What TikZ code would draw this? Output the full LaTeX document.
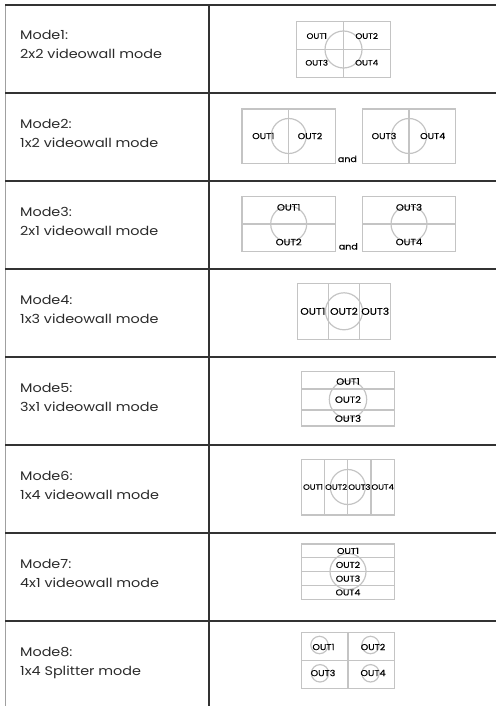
\documentclass[tikz,border=0pt]{standalone}
\usepackage{fontspec}
\setmainfont{Poppins}
\newfontfamily\modefont[FakeStretch=1.15]{Poppins}
\newfontfamily\outfont[FakeStretch=1.12,FakeBold=0.4]{Poppins}
\definecolor{rulecol}{HTML}{333333}
\definecolor{edgecol}{HTML}{A0A0A0}
\definecolor{wallcol}{HTML}{C4C4C4}
\definecolor{txtcol}{HTML}{2A2A2A}
\begin{document}
\begin{tikzpicture}[x=1pt,y=-1pt,
	rule/.style={draw=rulecol, line width=1.8pt},
	wall/.style={draw=wallcol, line width=1.2pt},
	modetxt/.style={anchor=base west, align=left, inner sep=0pt, text=txtcol, font=\modefont\fontsize{12.5}{19}\selectfont},
	out/.style={inner sep=0pt, text=black, font=\outfont\fontsize{#1}{#1}\selectfont},
	andtxt/.style={anchor=base, inner sep=0pt, text=black, font=\outfont\fontsize{8.5}{8.5}\selectfont}]
	\useasboundingbox (0,0) rectangle (496,706);
	\draw[draw=edgecol, line width=1.5pt] (5.5,5) -- (5.5,706);
	\draw[rule] (209,5) -- (209,706);
	\draw[rule] (5,5) -- (496,5);
	\draw[rule] (5,93) -- (496,93);
	\draw[rule] (5,181) -- (496,181);
	\draw[rule] (5,269) -- (496,269);
	\draw[rule] (5,357) -- (496,357);
	\draw[rule] (5,445) -- (496,445);
	\draw[rule] (5,533) -- (496,533);
	\draw[rule] (5,621) -- (496,621);
	\draw (20,59) node[modetxt](mode1) {Mode1:\\2x2 videowall mode};
	\draw (20,147) node[modetxt](mode2) {Mode2:\\1x2 videowall mode};
	\draw (20,235) node[modetxt](mode3) {Mode3:\\2x1 videowall mode};
	\draw (20,323) node[modetxt](mode4) {Mode4:\\1x3 videowall mode};
	\draw (20,411) node[modetxt](mode5) {Mode5:\\3x1 videowall mode};
	\draw (20,499) node[modetxt](mode6) {Mode6:\\1x4 videowall mode};
	\draw (20,587) node[modetxt](mode7) {Mode7:\\4x1 videowall mode};
	\draw (20,675) node[modetxt](mode8) {Mode8:\\1x4 Splitter mode};
	\draw[wall] (296.7,21.7) rectangle (390.3,77.7);
	\draw[wall] (343.5,21.7) -- (343.5,77.7);
	\draw[wall] (296.7,49.5) -- (390.3,49.5);
	\draw[wall] (343.5,49.5) circle (18.5pt);
	\draw (316.7,36) node[out=7.8](m1a) {OUT1};
	\draw (366.7,36) node[out=7.8](m1b) {OUT2};
	\draw (316.7,62.7) node[out=7.8](m1c) {OUT3};
	\draw (366.7,62.7) node[out=7.8](m1d) {OUT4};
	\draw[wall] (242,109) rectangle (335.3,163.3);
	\draw[wall] (288.7,109) -- (288.7,163.3);
	\draw[wall] (288.7,136) circle (17.5pt);
	\draw (263.3,136) node[out=8.5](m2a) {OUT1};
	\draw (310,136) node[out=8.5](m2b) {OUT2};
	\draw (347.4,162) node[andtxt](and2) {and};
	\draw[wall] (362.7,109) rectangle (455.3,163.3);
	\draw[wall] (409,109) -- (409,163.3);
	\draw[wall] (409,136) circle (17.5pt);
	\draw (384,136) node[out=8.5](m2c) {OUT3};
	\draw (432.7,136) node[out=8.5](m2d) {OUT4};
	\draw[wall] (242,196.7) rectangle (335.3,251.3);
	\draw[wall] (242,224) -- (335.3,224);
	\draw[wall] (288.7,224) circle (18pt);
	\draw (288.7,207.3) node[out=9](m3a) {OUT1};
	\draw (288.7,242) node[out=9](m3b) {OUT2};
	\draw (348.3,249.5) node[andtxt](and3) {and};
	\draw[wall] (362.7,196.7) rectangle (455.3,251.3);
	\draw[wall] (362.7,224) -- (455.3,224);
	\draw[wall] (409,224) circle (18pt);
	\draw (409,207.3) node[out=9](m3c) {OUT3};
	\draw (409,242) node[out=9](m3d) {OUT4};
	\draw[wall] (297.3,283.3) rectangle (390.7,339.3);
	\draw[wall] (328.4,283.3) -- (328.4,339.3);
	\draw[wall] (359.6,283.3) -- (359.6,339.3);
	\draw[wall] (344,311.3) circle (18.5pt);
	\draw (312.8,311.3) node[out=9.6](m4a) {OUT1};
	\draw (344,311.3) node[out=9.6](m4b) {OUT2};
	\draw (375.2,311.3) node[out=9.6](m4c) {OUT3};
	\draw[wall] (301.7,371.7) rectangle (394.3,426);
	\draw[wall] (301.7,389) -- (394.3,389);
	\draw[wall] (301.7,410) -- (394.3,410);
	\draw[wall] (348,399.5) circle (18.7pt);
	\draw (348,381.5) node[out=9](m5a) {OUT1};
	\draw (348,399.5) node[out=9](m5b) {OUT2};
	\draw (348,418.5) node[out=9](m5c) {OUT3};
	\draw[wall] (301.3,459.3) rectangle (394.3,515);
	\draw[wall] (324.5,459.3) -- (324.5,515);
	\draw[wall] (347.8,459.3) -- (347.8,515);
	\draw[wall] (371,459.3) -- (371,515);
	\draw[wall] (347.8,487) circle (17.5pt);
	\draw (313,487) node[out=7.6](m6a) {OUT1};
	\draw (336.2,487) node[out=7.6](m6b) {OUT2};
	\draw (359.4,487) node[out=7.6](m6c) {OUT3};
	\draw (382.7,487) node[out=7.6](m6d) {OUT4};
	\draw[wall] (301.7,544) rectangle (394.3,599.3);
	\draw[wall] (301.7,557.8) -- (394.3,557.8);
	\draw[wall] (301.7,571.7) -- (394.3,571.7);
	\draw[wall] (301.7,585.5) -- (394.3,585.5);
	\draw[wall] (348,571.5) circle (18pt);
	\draw (348,550.9) node[out=8.4](m7a) {OUT1};
	\draw (348,564.8) node[out=8.4](m7b) {OUT2};
	\draw (348,578.6) node[out=8.4](m7c) {OUT3};
	\draw (348,592.4) node[out=8.4](m7d) {OUT4};
	\draw[wall] (301.7,632.7) rectangle (394.3,688.3);
	\draw[wall] (348,632.7) -- (348,688.3);
	\draw[wall] (301.7,660.5) -- (394.3,660.5);
	\draw[wall] (319.5,645) circle (8.7pt);
	\draw[wall] (370.5,645) circle (8.7pt);
	\draw[wall] (320,673.3) circle (8.7pt);
	\draw[wall] (370.5,673.3) circle (8.7pt);
	\draw (323.5,647) node[out=8.5](m8a) {OUT1};
	\draw (373,647) node[out=8.5](m8b) {OUT2};
	\draw (323,673) node[out=8.5](m8c) {OUT3};
	\draw (373,673) node[out=8.5](m8d) {OUT4};
\end{tikzpicture}
\end{document}
